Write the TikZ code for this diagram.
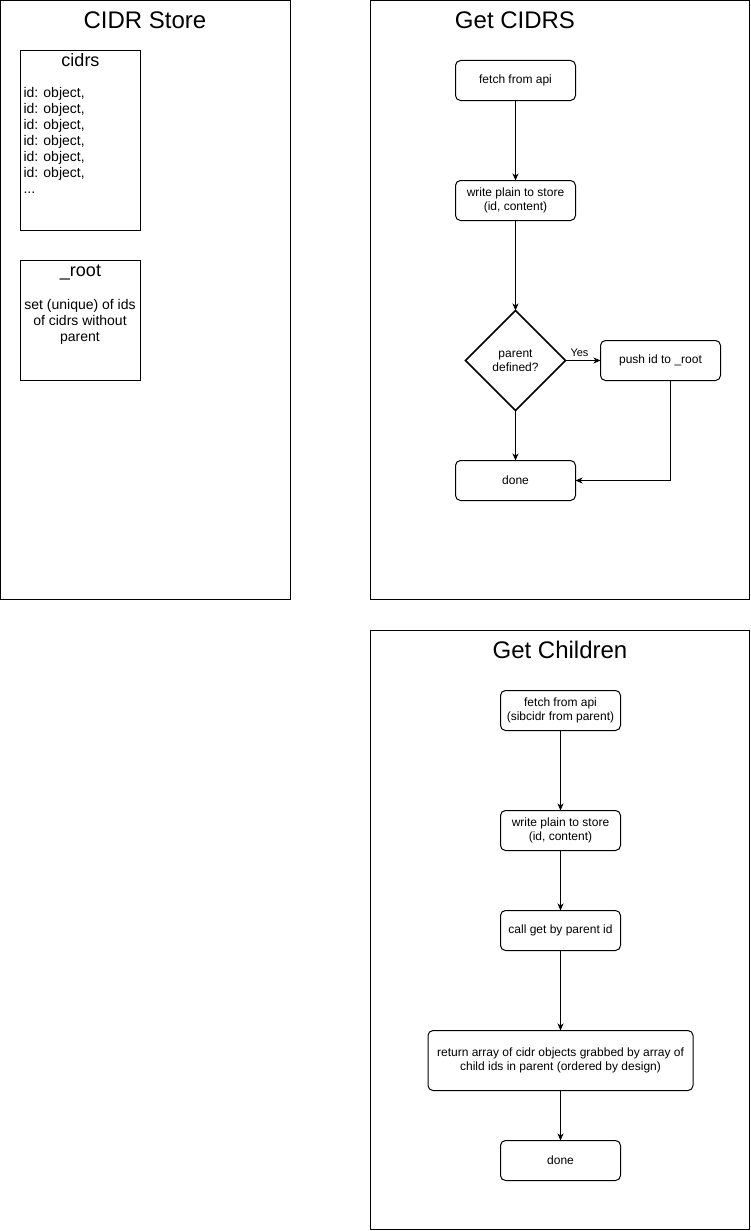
\documentclass[tikz,border=0pt]{standalone}
\usepackage{fontspec}
\setmainfont{Liberation Sans}
\usetikzlibrary{
  positioning,
  shapes.geometric,
  arrows.meta,
}
\newcommand{\pxfont}[2]{\fontsize{#1}{#2}\selectfont}
\tikzset{
  >={Stealth[length=7pt,width=6pt,inset=2pt]},
  every node/.style={outer sep=0pt},
  frame/.style={
    draw,
    line width=1pt,
    anchor=north west,
    inner sep=0pt,
  },
  frametitle/.style={font=\pxfont{24}{28}},
  storebox/.style={
    draw,
    line width=1pt,
    minimum width=120pt,
    inner sep=0pt,
  },
  boxtitle/.style={font=\pxfont{18}{21}, inner sep=0pt, anchor=base},
  boxtext/.style={font=\pxfont{14}{16}, inner sep=0pt},
  process/.style={
    rectangle,
    draw,
    line width=1pt,
    rounded corners=5pt,
    minimum width=120pt,
    minimum height=40pt,
    align=center,
    font=\pxfont{12}{14},
  },
  decision/.style={
    diamond,
    draw,
    line width=1.6pt,
    aspect=1,
    minimum width=100pt,
    minimum height=100pt,
    inner sep=0pt,
    align=center,
    font=\pxfont{12}{14},
  },
  flow/.style={->, line width=1pt},
}

\begin{document}
\begin{tikzpicture}[x=1pt,y=-1pt]
  \useasboundingbox (0,0) rectangle (751,1231);

  % store
  \node[frame, minimum width=290pt, minimum height=599pt] (store) at (0.5,0.5) {};
  \node[frametitle] (storetitle) at (145,20) {CIDR Store};

  \node[storebox, minimum height=180pt] (cidrs) at (80.5,140.5) {};
  \node[boxtitle] (cidrstitle) at ([yshift=-16pt]cidrs.north) {cidrs};
  \node[boxtext, anchor=north west, align=left] (cidrslist)
    at ([xshift=3pt,yshift=-37pt]cidrs.north west)
    {id: object,\\id: object,\\id: object,\\id: object,\\id: object,\\id: object,\\...};

  \node[storebox, minimum height=120pt] (root) at (80.5,320.5) {};
  \node[boxtitle] (roottitle) at ([yshift=-16pt]root.north) {\_root};
  \node[boxtext, align=center] (rootset) at (80,322)
    {set (unique) of ids\\of cidrs without\\parent};

  % get cidrs
  \node[frame, minimum width=379pt, minimum height=599pt] (getcidrs) at (370.5,0.5) {};
  \node[frametitle] (getcidrstitle) at (515,20) {Get CIDRS};

  \node[process] (fetch) at (515.5,80.5) {fetch from api};
  \node[process, below=80pt of fetch] (write) {write plain to store\\(id, content)};
  \node[decision, below=90pt of write] (parent) {parent\\defined?};
  \node[process, right=35pt of parent] (push) {push id to \_root};
  \node[process, below=50pt of parent] (done) {done};

  \draw[flow] (fetch) -- (write);
  \draw[flow] (write) -- (parent);
  \draw[flow] (parent) -- (done);
  \draw[flow] (parent) -- node[pos=0.4, above, yshift=3pt, font=\pxfont{11}{13}, inner sep=1pt] {Yes} (push);
  \draw[flow] ([xshift=10pt]push.south) |- (done.east);

  % get children
  \node[frame, minimum width=379pt, minimum height=599pt] (getchildren) at (370.5,630.5) {};
  \node[frametitle] (getchildrentitle) at (560,650) {Get Children};

  \node[process] (fetchkids) at (560.5,710.5) {fetch from api\\(sibcidr from parent)};
  \node[process, below=80pt of fetchkids] (writekids) {write plain to store\\(id, content)};
  \node[process, below=60pt of writekids] (call) {call get by parent id};
  \node[process, below=80pt of call, minimum width=265pt, minimum height=60pt] (return)
    {return array of cidr objects grabbed by array of\\child ids in parent (ordered by design)};
  \node[process, below=50pt of return] (donekids) {done};

  \draw[flow] (fetchkids) -- (writekids);
  \draw[flow] (writekids) -- (call);
  \draw[flow] (call) -- (return);
  \draw[flow] (return) -- (donekids);
\end{tikzpicture}
\end{document}
